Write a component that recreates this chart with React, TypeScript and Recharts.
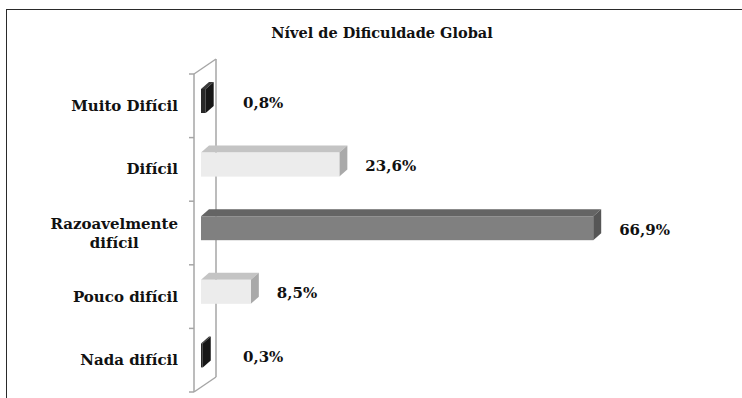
import { BarChart, Bar, XAxis, YAxis, LabelList, Customized } from "recharts";

const categories = [
  "Muito Difícil",
  "Difícil",
  "Razoavelmente difícil",
  "Pouco difícil",
  "Nada difícil",
];
const percentages = [0.8, 23.6, 66.9, 8.5, 0.3];

// front / top / side shades for each row of boxes
const shades = [
  { front: "#282828", top: "#3a3a3a", side: "#161616" },
  { front: "#ececec", top: "#c4c4c4", side: "#a9a9a9" },
  { front: "#808080", top: "#646464", side: "#565656" },
  { front: "#ececec", top: "#c4c4c4", side: "#a9a9a9" },
  { front: "#282828", top: "#3a3a3a", side: "#161616" },
];

const data = categories.map((name, i) => ({ name, pct: percentages[i] }));

const W = 742;
const H = 398;
const MARGIN = { top: 74, right: 79, bottom: 6, left: 0 };
const AXIS_W = 194;
const PLOT_H = H - MARGIN.top - MARGIN.bottom;
const BAND = PLOT_H / categories.length;

// 3D offsets: bars sit a little in from the wall, boxes have a shallow depth
const INSET_X = 7;
const SHIFT_Y = -5;
const DEPTH_X = 8;
const DEPTH_Y = 7;
const WALL_DX = 22;
const WALL_DY = 15;

const FONT = "'DejaVu Serif', serif";
const LABEL_SIZE = 15;
const wallStroke = "#a6a6a6";

const fmt = (v: number) => v.toFixed(1).replace(".", ",") + "%";

let measureCtx: CanvasRenderingContext2D | null = null;
const textWidth = (s: string, font: string) => {
  if (!measureCtx) measureCtx = document.createElement("canvas").getContext("2d");
  if (!measureCtx) return s.length * 8;
  measureCtx.font = font;
  return measureCtx.measureText(s).width;
};

const wrapLabel = (s: string) => {
  if (s.length <= 14) return [s];
  const cut = s.lastIndexOf(" ");
  return [s.slice(0, cut), s.slice(cut + 1)];
};

const Box3D = (props: any) => {
  const { x, y, width, height } = props;
  const idx = props.index ?? categories.indexOf(props.payload?.name);
  const s = shades[idx] || shades[0];
  const fx = x + INSET_X;
  const fy = y + SHIFT_Y;
  const w = Math.max(width, 0);
  return (
    <g>
      <polygon
        points={`${fx},${fy} ${fx + DEPTH_X},${fy - DEPTH_Y} ${fx + w + DEPTH_X},${fy - DEPTH_Y} ${fx + w},${fy}`}
        fill={s.top}
      />
      <polygon
        points={`${fx + w},${fy} ${fx + w + DEPTH_X},${fy - DEPTH_Y} ${fx + w + DEPTH_X},${fy + height - DEPTH_Y} ${fx + w},${fy + height}`}
        fill={s.side}
      />
      <rect x={fx} y={fy} width={w} height={height} fill={s.front} />
    </g>
  );
};

const ValueLabel = (props: any) => {
  const { x, y, width, height, value } = props;
  const right = x + INSET_X + width + DEPTH_X;
  const lx = Math.max(right + 18, x + 49);
  return (
    <text
      x={lx}
      y={y + height / 2 + SHIFT_Y + 1.5}
      dominantBaseline="central"
      fontFamily={FONT}
      fontWeight="bold"
      fontSize={LABEL_SIZE}
      fill="#111"
    >
      {fmt(value)}
    </text>
  );
};

const CategoryTick = (props: any) => {
  const { x, y, payload, index } = props;
  const font = `bold ${LABEL_SIZE}px ${FONT}`;
  const lines = wrapLabel(String(payload.value));
  const lineH = 19;
  const axisX = x + 16;
  const widest = Math.max(...lines.map((l) => textWidth(l, font)));
  const cx = x - widest / 2;
  const y0 = y - ((lines.length - 1) * lineH) / 2;
  return (
    <g>
      <line x1={axisX - 5} x2={axisX} y1={y - BAND / 2} y2={y - BAND / 2} stroke={wallStroke} strokeWidth={1.5} />
      {index === categories.length - 1 && (
        <line x1={axisX - 5} x2={axisX} y1={y + BAND / 2} y2={y + BAND / 2} stroke={wallStroke} strokeWidth={1.5} />
      )}
      <text
        fontFamily={FONT}
        fontWeight="bold"
        fontSize={LABEL_SIZE}
        fill="#111"
        textAnchor={lines.length > 1 ? "middle" : "end"}
      >
        {lines.map((l, i) => (
          <tspan key={i} x={lines.length > 1 ? cx : x} y={y0 + i * lineH} dominantBaseline="central">
            {l}
          </tspan>
        ))}
      </text>
    </g>
  );
};

// back edge of the category wall, seen behind the boxes
const BackWall = () => {
  const fx = AXIS_W;
  const top = MARGIN.top;
  const bottom = MARGIN.top + PLOT_H;
  return (
    <g stroke={wallStroke} strokeWidth={1.5} fill="none">
      <line x1={fx + WALL_DX} x2={fx + WALL_DX} y1={top - WALL_DY} y2={bottom - WALL_DY} />
      <line x1={fx} x2={fx + WALL_DX} y1={top} y2={top - WALL_DY} />
      <line x1={fx} x2={fx + WALL_DX} y1={bottom} y2={bottom - WALL_DY} />
    </g>
  );
};

export default function App() {
  return (
    <div style={{ position: "relative", width: W, height: H, overflow: "hidden", background: "#fff" }}>
      <style>{"body{margin:0}"}</style>
      <div
        style={{
          position: "absolute",
          left: 6,
          top: 9,
          width: W + 20,
          height: H + 20,
          borderLeft: "1.5px solid #2a2a2a",
          borderTop: "1.5px solid #2a2a2a",
        }}
      />
      <div
        style={{
          position: "absolute",
          left: 382,
          top: 24,
          transform: "translateX(-50%)",
          whiteSpace: "nowrap",
          fontFamily: FONT,
          fontWeight: "bold",
          fontSize: 14.5,
          lineHeight: "17px",
          color: "#111",
        }}
      >
        Nível de Dificuldade Global
      </div>
      <div style={{ position: "absolute", left: 0, top: 0 }}>
        <BarChart width={W} height={H} data={data} layout="vertical" margin={MARGIN} barSize={24}>
          <Customized component={BackWall} />
          <XAxis type="number" domain={[0, 80]} hide />
          <YAxis
            type="category"
            dataKey="name"
            width={AXIS_W}
            axisLine={{ stroke: wallStroke, strokeWidth: 1.5 }}
            tickLine={false}
            tickSize={5}
            tickMargin={11}
            tick={<CategoryTick />}
            interval={0}
          />
          <Bar dataKey="pct" shape={<Box3D />} isAnimationActive={false}>
            <LabelList dataKey="pct" content={<ValueLabel />} />
          </Bar>
        </BarChart>
      </div>
    </div>
  );
}
